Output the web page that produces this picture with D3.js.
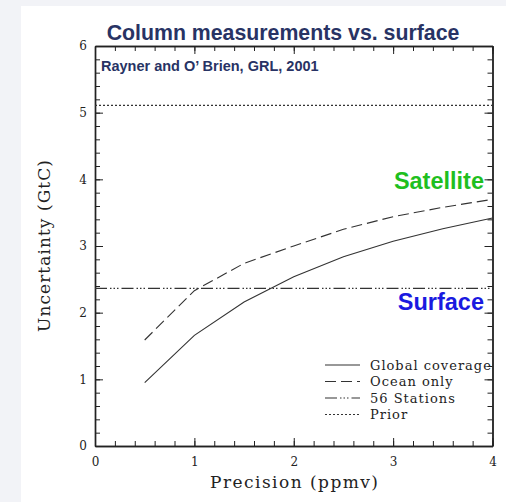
<!DOCTYPE html>
<html>
<head>
<meta charset="utf-8">
<script src="https://cdn.jsdelivr.net/npm/d3@7"></script>
<style>
  body { margin: 0; background: #f2f3f7; }
  svg { display: block; }
  .axis path, .axis line { stroke: #222; }
  .tick text { font-family: "DejaVu Serif", serif; font-size: 12px; fill: #222; }
</style>
</head>
<body>
<svg id="chart" width="506" height="502"></svg>
<script>
// precision (ppmv) sampled at these points
const precision = [0.5, 1, 1.5, 2, 2.5, 3, 3.5, 4]
const globalCoverage = [0.95, 1.66, 2.16, 2.54, 2.84, 3.07, 3.26, 3.42]
const oceanOnly = [1.59, 2.33, 2.74, 3.00, 3.25, 3.44, 3.58, 3.70]
const stations56 = 2.365
const prior = 5.11
const xTicks = [0, 1, 2, 3, 4]
const yTicks = [0, 1, 2, 3, 4, 5, 6]
const legendNames = ["Global coverage", "Ocean only", "56 Stations", "Prior"]

const dashes = {
  "Global coverage": null,
  "Ocean only": "11,5",
  "56 Stations": "12,3,1.5,2,1.5,2,1.5,3",
  "Prior": "2,2"
}

const svg = d3.select("#chart")

svg.append("rect")
  .attr("x", 21).attr("y", 6)
  .attr("width", 485).attr("height", 496)
  .attr("fill", "#fff")

const x = d3.scaleLinear().domain([0, 4]).range([95, 492.5])
const y = d3.scaleLinear().domain([0, 6]).range([446, 46])

const minorX = d3.range(0, 4.01, 0.2)
const minorY = d3.range(0, 6.01, 0.2)

// minor ticks on all four sides, pointing inward
svg.append("g").attr("class", "axis")
  .attr("transform", `translate(0,${y(0)})`)
  .call(d3.axisBottom(x).tickValues(minorX).tickSize(-5).tickSizeOuter(0).tickFormat(""))
svg.append("g").attr("class", "axis")
  .attr("transform", `translate(0,${y(6)})`)
  .call(d3.axisTop(x).tickValues(minorX).tickSize(-5).tickSizeOuter(0).tickFormat(""))
svg.append("g").attr("class", "axis")
  .attr("transform", `translate(${x(0)},0)`)
  .call(d3.axisLeft(y).tickValues(minorY).tickSize(-5).tickSizeOuter(0).tickFormat(""))
svg.append("g").attr("class", "axis")
  .attr("transform", `translate(${x(4)},0)`)
  .call(d3.axisRight(y).tickValues(minorY).tickSize(-5).tickSizeOuter(0).tickFormat(""))

// major ticks + labels
svg.append("g").attr("class", "axis")
  .attr("transform", `translate(0,${y(0)})`)
  .call(d3.axisBottom(x).tickValues(xTicks).tickSize(-8).tickSizeOuter(0).tickPadding(11).tickFormat(d3.format("d")))
svg.append("g").attr("class", "axis")
  .attr("transform", `translate(${x(0)},0)`)
  .call(d3.axisLeft(y).tickValues(yTicks).tickSize(-8).tickSizeOuter(0).tickPadding(8).tickFormat(d3.format("d")))
svg.append("g").attr("class", "axis")
  .attr("transform", `translate(0,${y(6)})`)
  .call(d3.axisTop(x).tickValues(xTicks).tickSize(-8).tickSizeOuter(0).tickFormat(""))
svg.append("g").attr("class", "axis")
  .attr("transform", `translate(${x(4)},0)`)
  .call(d3.axisRight(y).tickValues(yTicks).tickSize(-8).tickSizeOuter(0).tickFormat(""))

svg.selectAll(".axis .domain").attr("stroke-width", 1.4)

const line = d3.line().x(d => x(d[0])).y(d => y(d[1]))

const curves = [
  { name: "Global coverage", pts: d3.zip(precision, globalCoverage) },
  { name: "Ocean only", pts: d3.zip(precision, oceanOnly) },
  { name: "56 Stations", pts: [[0, stations56], [4, stations56]] },
  { name: "Prior", pts: [[0, prior], [4, prior]] }
]

svg.append("g").selectAll("path")
  .data(curves)
  .join("path")
  .attr("d", d => line(d.pts))
  .attr("fill", "none")
  .attr("stroke", "#333")
  .attr("stroke-width", 1.1)
  .attr("stroke-dasharray", d => dashes[d.name])

// legend
const leg = svg.append("g").attr("transform", "translate(325,365)")
const rows = leg.selectAll("g").data(legendNames).join("g")
  .attr("transform", (d, i) => `translate(0,${i * 16.5})`)
rows.append("line")
  .attr("x1", 0).attr("x2", 35)
  .attr("stroke", "#333").attr("stroke-width", 1.1)
  .attr("stroke-dasharray", d => dashes[d])
rows.append("text")
  .attr("x", 45).attr("y", 4.5)
  .attr("font-family", "DejaVu Serif, serif")
  .attr("font-size", 13)
  .attr("letter-spacing", 1)
  .attr("fill", "#222")
  .text(d => d)

// axis titles
svg.append("text")
  .attr("x", 294).attr("y", 488)
  .attr("text-anchor", "middle")
  .attr("font-family", "DejaVu Serif, serif")
  .attr("font-size", 17)
  .attr("textLength", 168)
  .attr("fill", "#222")
  .text("Precision (ppmv)")

svg.append("text")
  .attr("transform", "translate(50,246) rotate(-90)")
  .attr("text-anchor", "middle")
  .attr("font-family", "DejaVu Serif, serif")
  .attr("font-size", 17)
  .attr("textLength", 172)
  .attr("fill", "#222")
  .text("Uncertainty (GtC)")

// titles and annotations
svg.append("text")
  .attr("x", 283).attr("y", 40)
  .attr("text-anchor", "middle")
  .attr("font-family", "Liberation Sans, Arial, sans-serif")
  .attr("font-weight", "bold")
  .attr("font-size", 21.3)
  .attr("fill", "#283364")
  .text("Column measurements vs. surface")

svg.append("text")
  .attr("x", 101).attr("y", 71)
  .attr("font-family", "Liberation Sans, Arial, sans-serif")
  .attr("font-weight", "bold")
  .attr("font-size", 14.5)
  .attr("fill", "#283364")
  .text("Rayner and O’ Brien, GRL, 2001")

svg.append("text")
  .attr("x", 484).attr("y", 189)
  .attr("text-anchor", "end")
  .attr("font-family", "Liberation Sans, Arial, sans-serif")
  .attr("font-weight", "bold")
  .attr("font-size", 23.5)
  .attr("fill", "#1fbf1f")
  .text("Satellite")

svg.append("text")
  .attr("x", 484).attr("y", 310)
  .attr("text-anchor", "end")
  .attr("font-family", "Liberation Sans, Arial, sans-serif")
  .attr("font-weight", "bold")
  .attr("font-size", 23.5)
  .attr("fill", "#1a1ae0")
  .text("Surface")
</script>
</body>
</html>
